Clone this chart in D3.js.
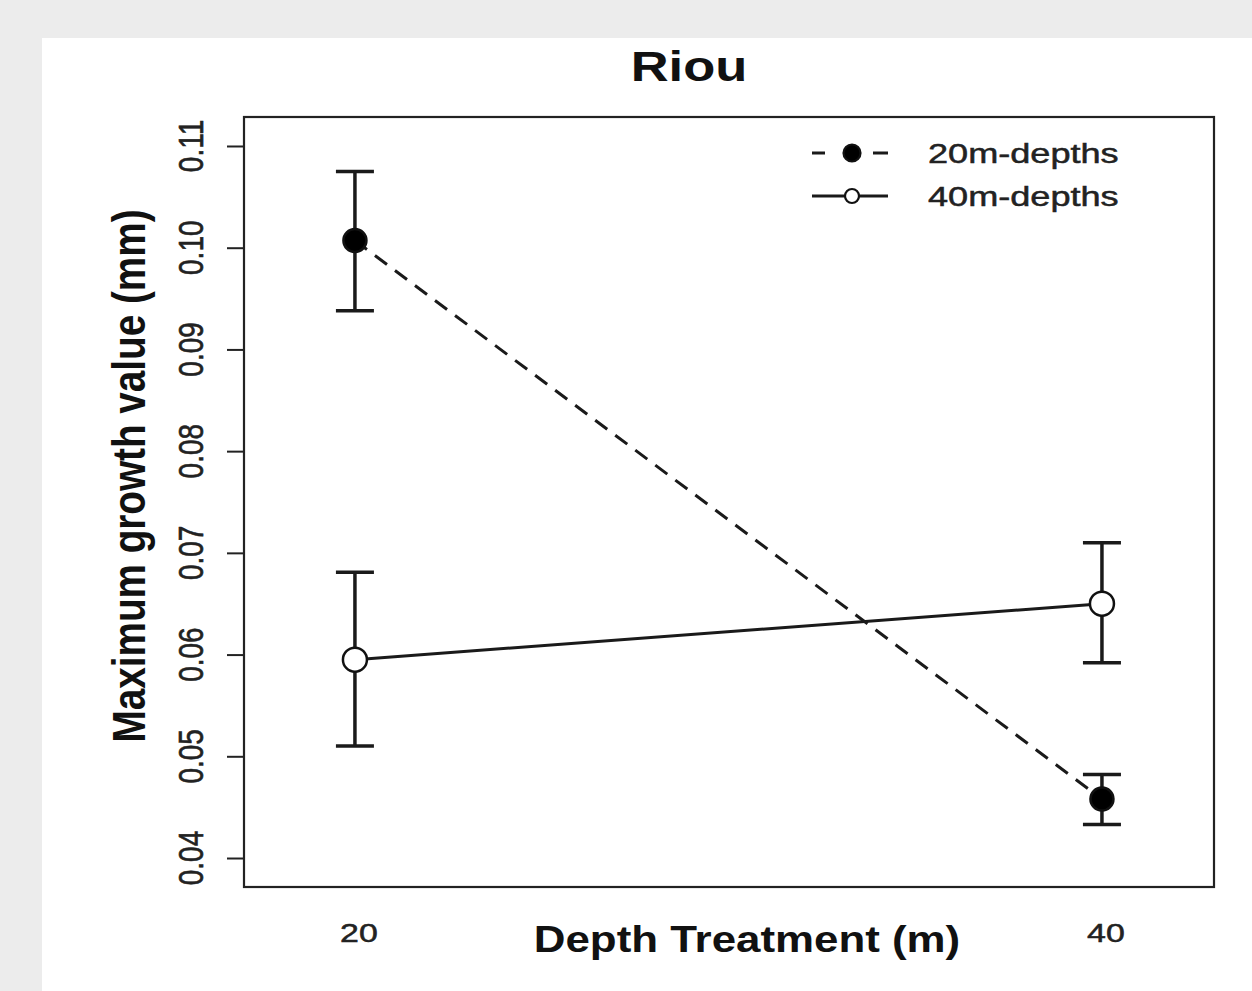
<!DOCTYPE html>
<html>
<head>
<meta charset="utf-8">
<script src="https://cdn.jsdelivr.net/npm/d3@7"></script>
<style>
body { margin: 0; background: #ececec; font-family: "Liberation Sans", Arial, sans-serif; }
</style>
</head>
<body>
<script>
// data
var depths = [20, 40];
var seriesNames = ["20m-depths", "40m-depths"];
var mean20 = [0.1007, 0.0458];
var upper20 = [0.1075, 0.0482];
var lower20 = [0.0938, 0.0433];
var mean40 = [0.0595, 0.0650];
var upper40 = [0.0681, 0.0710];
var lower40 = [0.0510, 0.0592];
var yTicks = [0.04, 0.05, 0.06, 0.07, 0.08, 0.09, 0.10, 0.11];

var width = 1252, height = 991;
var svg = d3.select("body").append("svg")
  .attr("width", width).attr("height", height)
  .style("display", "block");

svg.append("rect").attr("width", width).attr("height", height).attr("fill", "#ececec");
svg.append("rect").attr("x", 42).attr("y", 38).attr("width", width - 42).attr("height", height - 38).attr("fill", "#fff");

var pLeft = 244, pRight = 1214, pTop = 117, pBottom = 887;
var x = d3.scaleLinear().domain([17.03, 43.0]).range([pLeft, pRight]);
var y = d3.scaleLinear().domain([0.03715, 0.11285]).range([pBottom, pTop]);

// the picture is stretched sideways, so text gets a horizontal scale
function label(px, py, sx, rot, size, bold, str) {
  return svg.append("text")
    .attr("transform", "translate(" + px + "," + py + ") scale(" + sx + ",1)" + (rot ? " rotate(" + rot + ")" : ""))
    .attr("text-anchor", "middle")
    .attr("font-size", size)
    .attr("font-weight", bold ? "bold" : "normal")
    .attr("fill", bold ? "#111" : "#222")
    .attr("stroke", bold ? null : "#222").attr("stroke-width", bold ? null : 0.5)
    .text(str);
}

// y axis
var yAxis = svg.append("g").attr("transform", "translate(" + pLeft + ",0)")
  .call(d3.axisLeft(y).tickValues(yTicks).tickSize(17).tickFormat(""));
yAxis.select(".domain").remove();
yAxis.selectAll(".tick line").attr("stroke", "#222").attr("stroke-width", 2);
yTicks.forEach(function(t){
  label(203, y(t), 1.25, -90, 28, false, d3.format(".2f")(t));
});

// x labels (no ticks)
depths.forEach(function(d){
  label(x(d) + 4, 942, 1.28, 0, 26.5, false, d);
});

// frame
svg.append("rect").attr("x", pLeft).attr("y", pTop)
  .attr("width", pRight - pLeft).attr("height", pBottom - pTop)
  .attr("fill", "none").attr("stroke", "#222").attr("stroke-width", 2.2);

// titles
label(689, 81, 1.25, 0, 42, true, "Riou");
label(747, 952, 1.17, 0, 37.5, true, "Depth Treatment (m)");
label(145, 476, 1.19, -90, 38.7, true, "Maximum growth value (mm)");

var line = d3.line().x(function(d){ return x(d[0]); }).y(function(d){ return y(d[1]); });

function drawSeries(means, ups, lows, dashed, filled) {
  var pts = depths.map(function(d, i){ return [d, means[i], ups[i], lows[i]]; });
  svg.append("path").datum(pts).attr("d", line)
    .attr("fill", "none").attr("stroke", "#1a1a1a").attr("stroke-width", 3)
    .attr("stroke-dasharray", dashed ? "15,10" : null);
  var g = svg.append("g").selectAll("g").data(pts).enter().append("g");
  g.append("line").attr("x1", function(d){ return x(d[0]); }).attr("x2", function(d){ return x(d[0]); })
    .attr("y1", function(d){ return y(d[2]); }).attr("y2", function(d){ return y(d[3]); })
    .attr("stroke", "#1a1a1a").attr("stroke-width", 3.5);
  [2, 3].forEach(function(k){
    g.append("line").attr("x1", function(d){ return x(d[0]) - 19; }).attr("x2", function(d){ return x(d[0]) + 19; })
      .attr("y1", function(d){ return y(d[k]); }).attr("y2", function(d){ return y(d[k]); })
      .attr("stroke", "#1a1a1a").attr("stroke-width", 3.5);
  });
  g.append("circle").attr("cx", function(d){ return x(d[0]); }).attr("cy", function(d){ return y(d[1]); })
    .attr("r", filled ? 11.5 : 12)
    .attr("fill", filled ? "#000" : "#fff").attr("stroke", "#111").attr("stroke-width", 2.5);
}

drawSeries(mean40, upper40, lower40, false, false);
drawSeries(mean20, upper20, lower20, true, true);

// legend
var legend = svg.append("g").selectAll("g").data(seriesNames).enter().append("g")
  .attr("transform", function(d, i){ return "translate(0," + (153 + i * 43) + ")"; });
legend.append("line").attr("x1", 812).attr("x2", 888).attr("y1", 0).attr("y2", 0)
  .attr("stroke", "#1a1a1a").attr("stroke-width", 2.8)
  .attr("stroke-dasharray", function(d, i){ return i === 0 ? "13,48,15" : null; });
legend.append("circle").attr("cx", 852).attr("cy", 0).attr("r", function(d, i){ return i === 0 ? 8.5 : 7; })
  .attr("fill", function(d, i){ return i === 0 ? "#000" : "#fff"; })
  .attr("stroke", "#111").attr("stroke-width", 2.2);
legend.append("text")
  .attr("transform", "translate(928,10) scale(1.29,1)")
  .attr("font-size", 28).attr("fill", "#222")
  .attr("stroke", "#222").attr("stroke-width", 0.5)
  .text(function(d){ return d; });
</script>
</body>
</html>
